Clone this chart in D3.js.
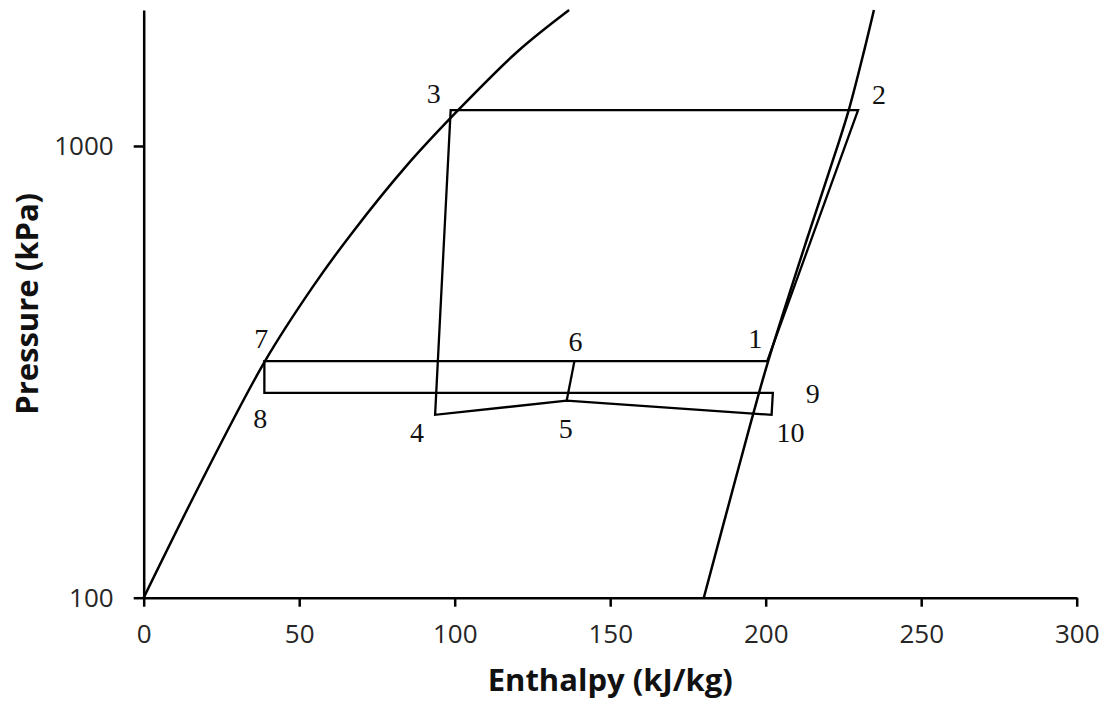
<!doctype html>
<html lang="en">
<head>
  <meta charset="utf-8">
  <title>P-h diagram</title>
  <style>
    body { margin: 0; background: #fff; }
    svg { display: block; }
    .tick text { font-family: "Open Sans", sans-serif; font-size: 26px; fill: #262626; }
    .axis path, .axis line { stroke: #000; stroke-width: 2.5px; }
    .title { font-family: "Open Sans", sans-serif; font-weight: bold; font-size: 31px; fill: #111; }
    .sat { fill: none; stroke: #000; stroke-width: 2.5px; }
    .cycle { fill: none; stroke: #000; stroke-width: 2.3px; stroke-linejoin: miter; }
    .state { font-family: "Liberation Serif", "Times New Roman", serif; font-size: 28px; fill: #111; }
  </style>
</head>
<body>
  <div id="chart"></div>
  <script src="https://cdn.jsdelivr.net/npm/d3@7/dist/d3.min.js"></script>
  <script>
(function(){

  // axes
  var hDomain = [0, 300];
  var pDomain = [100, 2000];
  var xTicks = [0, 50, 100, 150, 200, 250, 300];
  var yTicks = [100, 1000];

  // saturated liquid line (kJ/kg, kPa)
  var liquidH = [0, 18.75, 39.0, 54.3, 67.0, 84.2, 101.1, 120.4, 136.8];
  var liquidP = [100, 182, 334, 487, 642, 899, 1200, 1623, 2000];

  // saturated vapour line
  var vaporH = [180.1, 190.2, 195.9, 200.8, 213.6, 222.7, 226.7, 231.7, 234.8];
  var vaporP = [100, 182, 254, 334, 632, 980, 1200, 1630, 2000];

  // cycle state points 1..10
  var stateNames = ['1', '2', '3', '4', '5', '6', '7', '8', '9', '10'];
  var stateH = [200.5, 229.7, 98.7, 93.7, 136.0, 138.5, 38.8, 38.8, 202.3, 201.9];
  var stateP = [334, 1200, 1200, 254, 273, 334, 334, 284, 284, 254];

  // order the states are joined in
  var loopOrder = ['1', '2', '3', '4', '5', '10', '9', '8', '7', '1'];
  var branchOrder = ['5', '6'];

  var width = 1111, height = 709;
  var margin = {top: 10, right: 34.3, bottom: 111.3, left: 143.7};

  var svg = d3.select('#chart').append('svg')
      .attr('width', width)
      .attr('height', height);

  var x = d3.scaleLinear().domain(hDomain).range([margin.left, width - margin.right]);
  var y = d3.scaleLog().domain(pDomain).range([height - margin.bottom, margin.top]);

  var line = d3.line()
      .x(function(d){ return x(d[0]); })
      .y(function(d){ return y(d[1]); });

  var smooth = d3.line()
      .x(function(d){ return x(d[0]); })
      .y(function(d){ return y(d[1]); })
      .curve(d3.curveCatmullRom.alpha(0.5));

  // x axis
  svg.append('g')
      .attr('class', 'axis')
      .attr('transform', 'translate(0,' + y(pDomain[0]) + ')')
      .call(d3.axisBottom(x).tickValues(xTicks).tickSize(9).tickSizeOuter(0).tickPadding(18));

  // y axis
  svg.append('g')
      .attr('class', 'axis')
      .attr('transform', 'translate(' + x(hDomain[0]) + ',0)')
      .call(d3.axisLeft(y).tickValues(yTicks).tickFormat(d3.format('d')).tickSize(10).tickSizeOuter(0).tickPadding(20));

  // saturation dome
  svg.append('path')
      .attr('class', 'sat')
      .attr('d', smooth(d3.zip(liquidH, liquidP)));
  svg.append('path')
      .attr('class', 'sat')
      .attr('d', smooth(d3.zip(vaporH, vaporP)));

  // cycle
  var state = {};
  stateNames.forEach(function(n, i){ state[n] = [stateH[i], stateP[i]]; });

  svg.append('path')
      .attr('class', 'cycle')
      .attr('d', line(loopOrder.map(function(n){ return state[n]; })));
  svg.append('path')
      .attr('class', 'cycle')
      .attr('d', line(branchOrder.map(function(n){ return state[n]; })));

  // where each number sits next to its point (px)
  var nudge = {
    '1': [-12, -23], '2': [21, -16], '3': [-17, -17], '4': [-18, 18], '5': [-1, 28],
    '6': [1, -20], '7': [-3, -23], '8': [-4, 26], '9': [40, 1], '10': [19, 18]
  };

  svg.selectAll('text.state')
      .data(stateNames)
    .enter().append('text')
      .attr('class', 'state')
      .attr('text-anchor', 'middle')
      .attr('dy', '0.34em')
      .attr('x', function(n){ return x(state[n][0]) + nudge[n][0]; })
      .attr('y', function(n){ return y(state[n][1]) + nudge[n][1]; })
      .text(function(n){ return n; });

  // axis titles
  svg.append('text')
      .attr('class', 'title')
      .attr('text-anchor', 'middle')
      .attr('x', (x.range()[0] + x.range()[1]) / 2)
      .attr('y', 691)
      .text('Enthalpy (kJ/kg)');

  svg.append('text')
      .attr('class', 'title')
      .attr('text-anchor', 'middle')
      .attr('transform', 'translate(38,' + (y.range()[0] + y.range()[1]) / 2 + ') rotate(-90)')
      .text('Pressure (kPa)');

})();
  </script>
</body>
</html>
